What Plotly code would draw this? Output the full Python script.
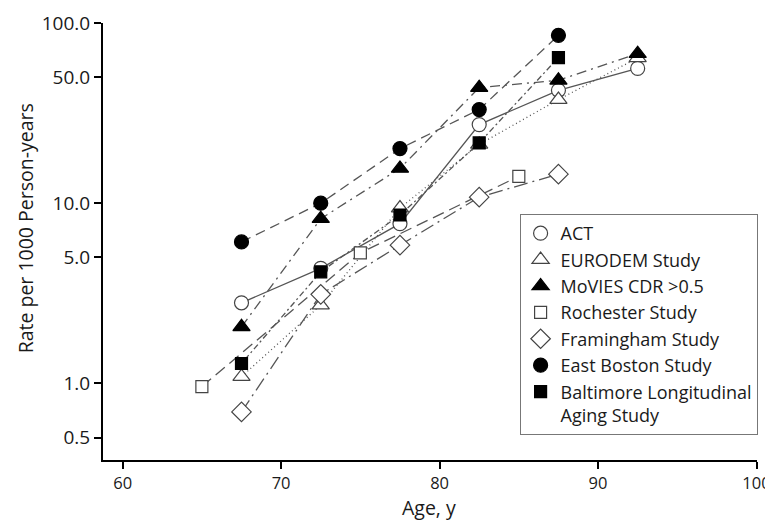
import plotly.graph_objects as go

# ---- data ----
series_names = ["ACT", "EURODEM Study", "MoVIES CDR >0.5", "Rochester Study",
                "Framingham Study", "East Boston Study",
                "Baltimore Longitudinal<br>Aging Study"]

act_age = [67.5, 72.5, 77.5, 82.5, 87.5, 92.5]
act_rate = [2.8, 4.35, 7.7, 27.3, 42.3, 56.0]

eurodem_age = [67.5, 72.5, 77.5, 82.5, 87.5, 92.5]
eurodem_rate = [1.09, 2.72, 9.4, 21.2, 37.6, 64.0]

movies_age = [67.5, 72.5, 77.5, 82.5, 87.5, 92.5]
movies_rate = [2.06, 8.2, 15.6, 43.8, 48.1, 67.6]

rochester_age = [65, 75, 85]
rochester_rate = [0.96, 5.3, 14.1]

framingham_age = [67.5, 72.5, 77.5, 82.5, 87.5]
framingham_rate = [0.695, 3.12, 5.85, 10.8, 14.5]

eastboston_age = [67.5, 72.5, 77.5, 82.5, 87.5]
eastboston_rate = [6.1, 10.0, 20.1, 33.1, 85.4]

baltimore_age = [67.5, 72.5, 77.5, 82.5, 87.5]
baltimore_rate = [1.29, 4.16, 8.6, 21.6, 64.3]

y_tickvals = [0.5, 1, 5, 10, 50, 100]
y_ticktext = ["0.5", "1.0", "5.0", "10.0", "50.0", "100.0"]
x_tickvals = [60, 70, 80, 90, 100]

x_title = "Age, y"
y_title = "Rate per 1000 Person-years"

# ---- styles ----
FONT = "Open Sans, Liberation Sans, Arial, sans-serif"
LINEC = "#555555"
EDGE = "#444444"

styles = [
    # (x, y, symbol, fill, size, dash)
    (act_age, act_rate, "circle", "white", 14, "solid"),
    (eurodem_age, eurodem_rate, "triangle-up", "white", 15, "1px,3px"),
    (movies_age, movies_rate, "triangle-up", "black", 15, "10px,5px,2px,5px"),
    (rochester_age, rochester_rate, "square", "white", 12, "12px,6px"),
    (framingham_age, framingham_rate, "diamond", "white", 15, "14px,5px,2px,5px"),
    (eastboston_age, eastboston_rate, "circle", "black", 14, "10px,6px"),
    (baltimore_age, baltimore_rate, "square", "black", 12, "2px,3px,6px,3px"),
]

fig = go.Figure()

for name, (xs, ys, sym, fill, size, dash) in zip(series_names, styles):
    fig.add_trace(go.Scatter(
        x=xs, y=ys, mode="lines", showlegend=False, legendgroup=name,
        line=dict(color=LINEC, width=1.3, dash=dash), hoverinfo="skip"))

for name, (xs, ys, sym, fill, size, dash) in zip(series_names, styles):
    fig.add_trace(go.Scatter(
        x=xs, y=ys, mode="markers", name=name, legendgroup=name,
        marker=dict(symbol=sym, size=size, color=fill,
                    line=dict(color=EDGE if fill == "white" else "black", width=1.2))))

# page body has an 8px default margin, so the figure is made smaller and shifted
fig.update_layout(
    width=765, height=515,
    margin=dict(l=95, r=16, t=15, b=63),
    paper_bgcolor="white", plot_bgcolor="white",
    font=dict(family=FONT, size=19, color="#1a1a1a"),
    showlegend=True,
    legend=dict(
        x=0.637, y=0.563, xanchor="left", yanchor="top",
        bordercolor="#777777", borderwidth=1, bgcolor="white",
        font=dict(family=FONT, size=18, color="#1a1a1a"),
        valign="top", tracegroupgap=0,
    ),
    annotations=[
        dict(text=y_title, xref="paper", yref="paper", x=-0.119, y=0.5305,
             xanchor="center", yanchor="middle", textangle=-90, showarrow=False,
             font=dict(family=FONT, size=19.5, color="#1a1a1a")),
        dict(text=x_title, xref="paper", yref="paper", x=0.4985, y=-0.108,
             xanchor="center", yanchor="middle", showarrow=False,
             font=dict(family=FONT, size=19.5, color="#1a1a1a")),
    ],
)

fig.update_xaxes(
    range=[58.76, 100.03], tickvals=x_tickvals, automargin=False,
    showline=True, linecolor="black", linewidth=2,
    ticks="outside", ticklen=7, tickwidth=2, tickcolor="black",
    showgrid=False, zeroline=False,
    tickfont=dict(size=16.5),
)
fig.update_yaxes(
    type="log", range=[-0.425, 2.0],
    tickvals=y_tickvals, ticktext=y_ticktext, automargin=False,
    showline=True, linecolor="black", linewidth=2,
    ticks="outside", ticklen=7, tickwidth=2, tickcolor="black",
    showgrid=False, zeroline=False,
    tickfont=dict(size=19),
)

fig.write_html("out.html")
